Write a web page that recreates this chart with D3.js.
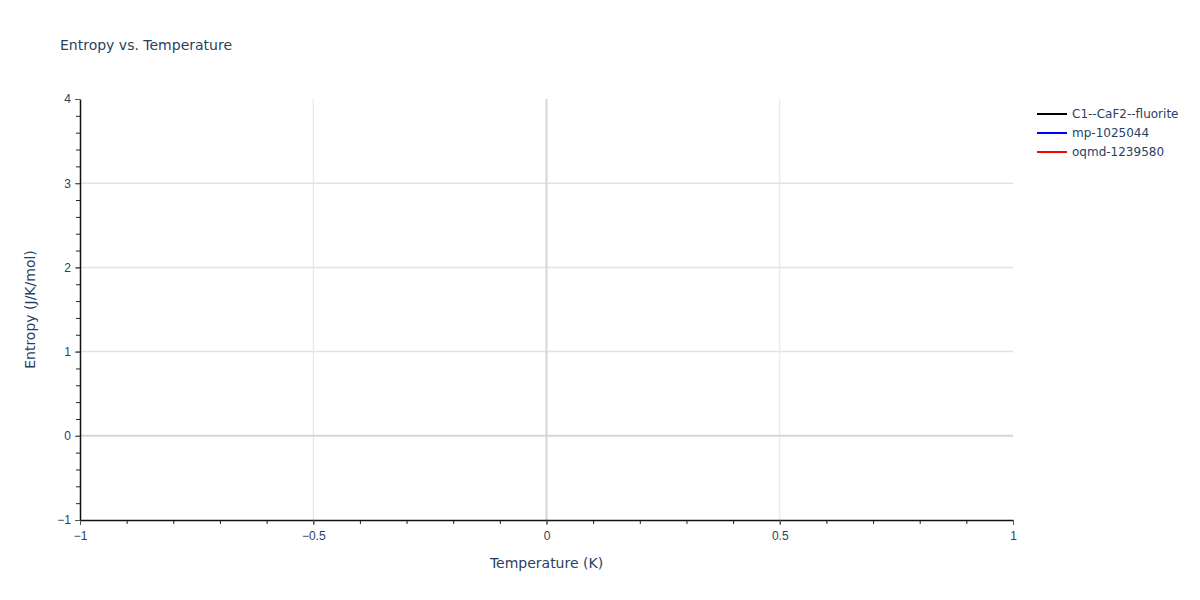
<!DOCTYPE html>
<html>
<head>
<meta charset="utf-8">
<script src="https://cdn.jsdelivr.net/npm/d3@7"></script>
<style>
  body { margin: 0; background: #fff; }
  svg { font-family: "DejaVu Sans", verdana, arial, sans-serif; }
</style>
</head>
<body>
<div id="chart"></div>
<script>
// series shown in the legend; the reference has no plotted points
const seriesNames = ["C1--CaF2--fluorite", "mp-1025044", "oqmd-1239580"]
const seriesColors = ["black", "blue", "red"]
const seriesTemps = [[], [], []]
const seriesEntropy = [[], [], []]

const xTicks = [-1, -0.5, 0, 0.5, 1]
const yTicks = [-1, 0, 1, 2, 3, 4]
const xMinorTicks = d3.range(-10, 11).map(d => d / 10)
const yMinorTicks = d3.range(-5, 21).map(d => d / 5)

const width = 1200,
    height = 600
const margin = { top: 99, right: 187, bottom: 80, left: 80 }

const svg = d3.select("#chart").append("svg")
    .attr("width", width)
    .attr("height", height)

const x = d3.scaleLinear()
    .domain([-1, 1])
    .range([margin.left, width - margin.right])

const y = d3.scaleLinear()
    .domain([-1, 4])
    .range([height - margin.bottom, margin.top])

const fmt = d => d3.format("")(d).replace("-", "\u2212")

// grid
svg.append("g")
    .selectAll("line")
    .data(xTicks.filter(d => d !== 0 && d !== -1 && d !== 1))
    .join("line")
    .attr("x1", d => x(d)).attr("x2", d => x(d))
    .attr("y1", y(-1)).attr("y2", y(4))
    .attr("stroke", "#e3e3e3")
    .attr("stroke-width", 1)

svg.append("g")
    .selectAll("line")
    .data(yTicks.filter(d => d !== 0 && d !== -1 && d !== 4))
    .join("line")
    .attr("x1", x(-1)).attr("x2", x(1))
    .attr("y1", d => y(d)).attr("y2", d => y(d))
    .attr("stroke", "#e3e3e3")
    .attr("stroke-width", 1.5)

// zero lines
svg.append("line")
    .attr("x1", x(0)).attr("x2", x(0))
    .attr("y1", y(-1)).attr("y2", y(4))
    .attr("stroke", "#d6d6d6")
    .attr("stroke-width", 2)
svg.append("line")
    .attr("x1", x(-1)).attr("x2", x(1))
    .attr("y1", y(0)).attr("y2", y(0))
    .attr("stroke", "#d6d6d6")
    .attr("stroke-width", 2)

// series lines (empty in the reference)
const line = d3.line()
    .x(d => x(d[0]))
    .y(d => y(d[1]))
seriesNames.forEach((name, i) => {
    const pts = seriesTemps[i].map((t, j) => [t, seriesEntropy[i][j]])
    svg.append("path")
        .datum(pts)
        .attr("fill", "none")
        .attr("stroke", seriesColors[i])
        .attr("stroke-width", 2)
        .attr("d", line)
})

// x axis
const xAxis = svg.append("g")
    .attr("transform", `translate(0,${y(-1)})`)
xAxis.call(d3.axisBottom(x).tickValues(xMinorTicks).tickSize(4).tickFormat(""))
xAxis.call(g => g.select(".domain").remove())
xAxis.selectAll("line").attr("stroke", "#222")
const xMajor = svg.append("g")
    .attr("transform", `translate(0,${y(-1)})`)
    .call(d3.axisBottom(x).tickValues(xTicks).tickSize(5).tickSizeOuter(0).tickFormat(fmt).tickPadding(6))
xMajor.select(".domain").attr("stroke", "#111").attr("stroke-width", 1.5)
xMajor.selectAll(".tick line").attr("stroke", "#555")
xMajor.selectAll("text").attr("fill", "#2a3f5f").attr("font-size", 12)

// y axis
const yAxis = svg.append("g")
    .attr("transform", `translate(${x(-1)},0)`)
yAxis.call(d3.axisLeft(y).tickValues(yMinorTicks).tickSize(4).tickFormat(""))
yAxis.call(g => g.select(".domain").remove())
yAxis.selectAll("line").attr("stroke", "#222")
const yMajor = svg.append("g")
    .attr("transform", `translate(${x(-1)},0)`)
    .call(d3.axisLeft(y).tickValues(yTicks).tickSize(5).tickSizeOuter(0).tickFormat(fmt).tickPadding(4))
yMajor.select(".domain").attr("stroke", "#111").attr("stroke-width", 1.5)
yMajor.selectAll(".tick line").attr("stroke", "#555")
yMajor.selectAll("text").attr("fill", "#2a3f5f").attr("font-size", 12)

// titles
svg.append("text")
    .attr("x", 60).attr("y", 50)
    .attr("fill", "#2a3f5f")
    .attr("font-size", 14)
    .text("Entropy vs. Temperature")

svg.append("text")
    .attr("x", (x(-1) + x(1)) / 2).attr("y", 568)
    .attr("text-anchor", "middle")
    .attr("fill", "#2a3f5f")
    .attr("font-size", 14)
    .text("Temperature (K)")

svg.append("text")
    .attr("transform", `translate(35,${(y(-1) + y(4)) / 2}) rotate(-90)`)
    .attr("text-anchor", "middle")
    .attr("fill", "#2a3f5f")
    .attr("font-size", 14)
    .text("Entropy (J/K/mol)")

// legend
const legend = svg.append("g")
    .attr("transform", "translate(1037,114)")
const item = legend.selectAll("g")
    .data(seriesNames)
    .join("g")
    .attr("transform", (d, i) => `translate(0,${i * 19})`)
item.append("line")
    .attr("x1", 0).attr("x2", 30)
    .attr("stroke", (d, i) => seriesColors[i])
    .attr("stroke-width", 2)
item.append("text")
    .attr("x", 35).attr("y", 4)
    .attr("fill", "#2a3f5f")
    .attr("font-size", 12)
    .text(d => d)
</script>
</body>
</html>
